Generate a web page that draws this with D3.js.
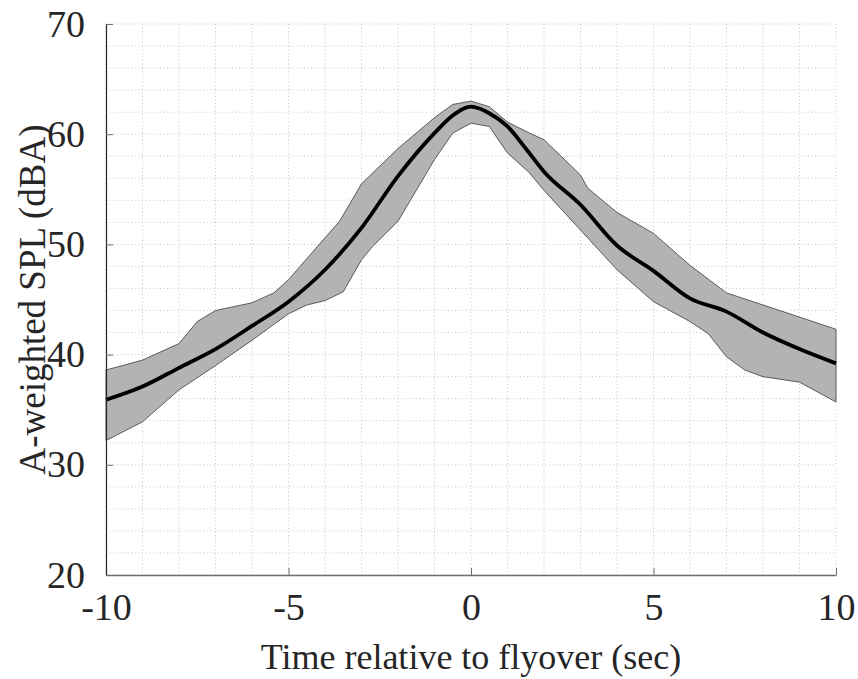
<!DOCTYPE html>
<html>
<head>
<meta charset="utf-8">
<script src="https://cdn.jsdelivr.net/npm/d3@7"></script>
<style>
  body { margin: 0; background: #fff; }
  text { font-family: "Liberation Serif", "Times New Roman", serif; fill: #262626; }
</style>
</head>
<body>
<div id="chart"></div>
<script>
// Mean SPL trace and its upper / lower spread
var meanTime = [-10, -9, -8, -7, -6, -5, -4, -3, -2, -1, -0.5, 0, 0.5, 1, 1.5, 2, 3, 4, 5, 6, 7, 8, 9, 10];
var meanLevel = [35.9, 37.1, 38.8, 40.5, 42.6, 44.8, 47.7, 51.5, 56.2, 60.1, 61.7, 62.5, 61.9, 60.7, 58.7, 56.6, 53.6, 49.9, 47.6, 45.1, 43.9, 42.0, 40.5, 39.2];

var upperTime = [-10, -9, -8, -7.5, -7, -6, -5.4, -5, -4, -3.6, -3, -2, -1, -0.5, 0, 0.5, 1, 1.6, 2, 3, 3.2, 4, 5, 6, 7, 8, 9, 10];
var upperLevel = [38.6, 39.5, 41.0, 43.0, 44.0, 44.7, 45.6, 46.8, 50.6, 52.1, 55.5, 58.7, 61.5, 62.7, 63.0, 62.5, 61.1, 60.1, 59.5, 56.3, 55.1, 52.9, 51.0, 48.1, 45.6, 44.5, 43.4, 42.3];

var lowerTime = [-10, -9, -8, -7, -6, -5, -4.5, -4, -3.5, -3, -2.7, -2, -1, -0.5, 0, 0.5, 1, 1.6, 2, 3, 4, 5, 6, 6.5, 7, 7.5, 8, 9, 10];
var lowerLevel = [32.2, 33.9, 36.8, 39.0, 41.3, 43.7, 44.5, 44.9, 45.7, 48.6, 49.8, 52.1, 57.7, 60.1, 61.0, 60.7, 58.3, 56.5, 54.9, 51.3, 47.7, 44.8, 43.0, 41.9, 39.8, 38.6, 38.0, 37.5, 35.7];

var xTicks = [-10, -5, 0, 5, 10];
var yTicks = [20, 30, 40, 50, 60, 70];

var svgWidth = 858;
var svgHeight = 679;
var margin = { top: 24, right: 22, bottom: 104, left: 106 };
var width = svgWidth - margin.left - margin.right;
var height = svgHeight - margin.top - margin.bottom;

var svg = d3.select("#chart")
  .append("svg")
  .attr("width", svgWidth)
  .attr("height", svgHeight);

var g = svg.append("g")
  .attr("transform", `translate(${margin.left}, ${margin.top})`);

var x = d3.scaleLinear().domain([-10, 10]).range([0, width]);
var y = d3.scaleLinear().domain([20, 70]).range([height, 0]);

// dotted grid, minor and major alike
g.append("g").selectAll("line")
  .data(d3.range(-10, 11, 1))
  .enter().append("line")
  .attr("x1", d => x(d)).attr("x2", d => x(d))
  .attr("y1", 0).attr("y2", height)
  .attr("stroke", "#c4c4c4")
  .attr("stroke-width", 1)
  .attr("stroke-dasharray", "1,2.6");

g.append("g").selectAll("line")
  .data(d3.range(20, 71, 2))
  .enter().append("line")
  .attr("x1", 0).attr("x2", width)
  .attr("y1", d => y(d)).attr("y2", d => y(d))
  .attr("stroke", "#c4c4c4")
  .attr("stroke-width", 1)
  .attr("stroke-dasharray", "1,2.6");

// spread band: upper edge forward, lower edge back
var bandPoints = upperTime.map((t, i) => [t, upperLevel[i]])
  .concat(lowerTime.map((t, i) => [t, lowerLevel[i]]).reverse());

var line = d3.line()
  .x(d => x(d[0]))
  .y(d => y(d[1]));

g.append("path")
  .datum(bandPoints)
  .attr("d", d => line.curve(d3.curveLinearClosed)(d))
  .attr("fill", "#b3b3b3")
  .attr("stroke", "#4d4d4d")
  .attr("stroke-width", 0.9);

g.append("path")
  .datum(meanTime.map((t, i) => [t, meanLevel[i]]))
  .attr("d", d => line.curve(d3.curveMonotoneX)(d))
  .attr("fill", "none")
  .attr("stroke", "#000")
  .attr("stroke-width", 3.8)
  .attr("stroke-linejoin", "round");

// axes with inward ticks
var bottomAxis = d3.axisBottom(x).tickValues(xTicks).tickSizeInner(-7).tickSizeOuter(0).tickPadding(18);
var leftAxis = d3.axisLeft(y).tickValues(yTicks).tickSizeInner(-7).tickSizeOuter(0).tickPadding(21);

var xAxisG = g.append("g")
  .attr("transform", `translate(0, ${height})`)
  .call(bottomAxis)
  .attr("font-family", null);
xAxisG.select(".domain").attr("stroke", "#6e6e6e").attr("stroke-width", 1.6);
xAxisG.selectAll(".tick line").attr("stroke", "#6e6e6e");
xAxisG.selectAll(".tick text").attr("font-size", 38).attr("fill", "#262626")
  .text(d => d < 0 ? "-" + Math.abs(d) : d);

var yAxisG = g.append("g").call(leftAxis)
  .attr("font-family", null);
yAxisG.select(".domain").attr("stroke", "#262626").attr("stroke-width", 1.2);
yAxisG.selectAll(".tick line").attr("stroke", "#6e6e6e");
yAxisG.selectAll(".tick text").attr("font-size", 38).attr("fill", "#262626");

// axis titles
g.append("text")
  .attr("x", width / 2)
  .attr("y", height + 94)
  .attr("text-anchor", "middle")
  .attr("font-size", 36)
  .text("Time relative to flyover (sec)");

g.append("text")
  .attr("transform", `translate(${-margin.left + 45}, ${height / 2}) rotate(-90)`)
  .attr("text-anchor", "middle")
  .attr("font-size", 37)
  .text("A-weighted SPL (dBA)");
</script>
</body>
</html>
